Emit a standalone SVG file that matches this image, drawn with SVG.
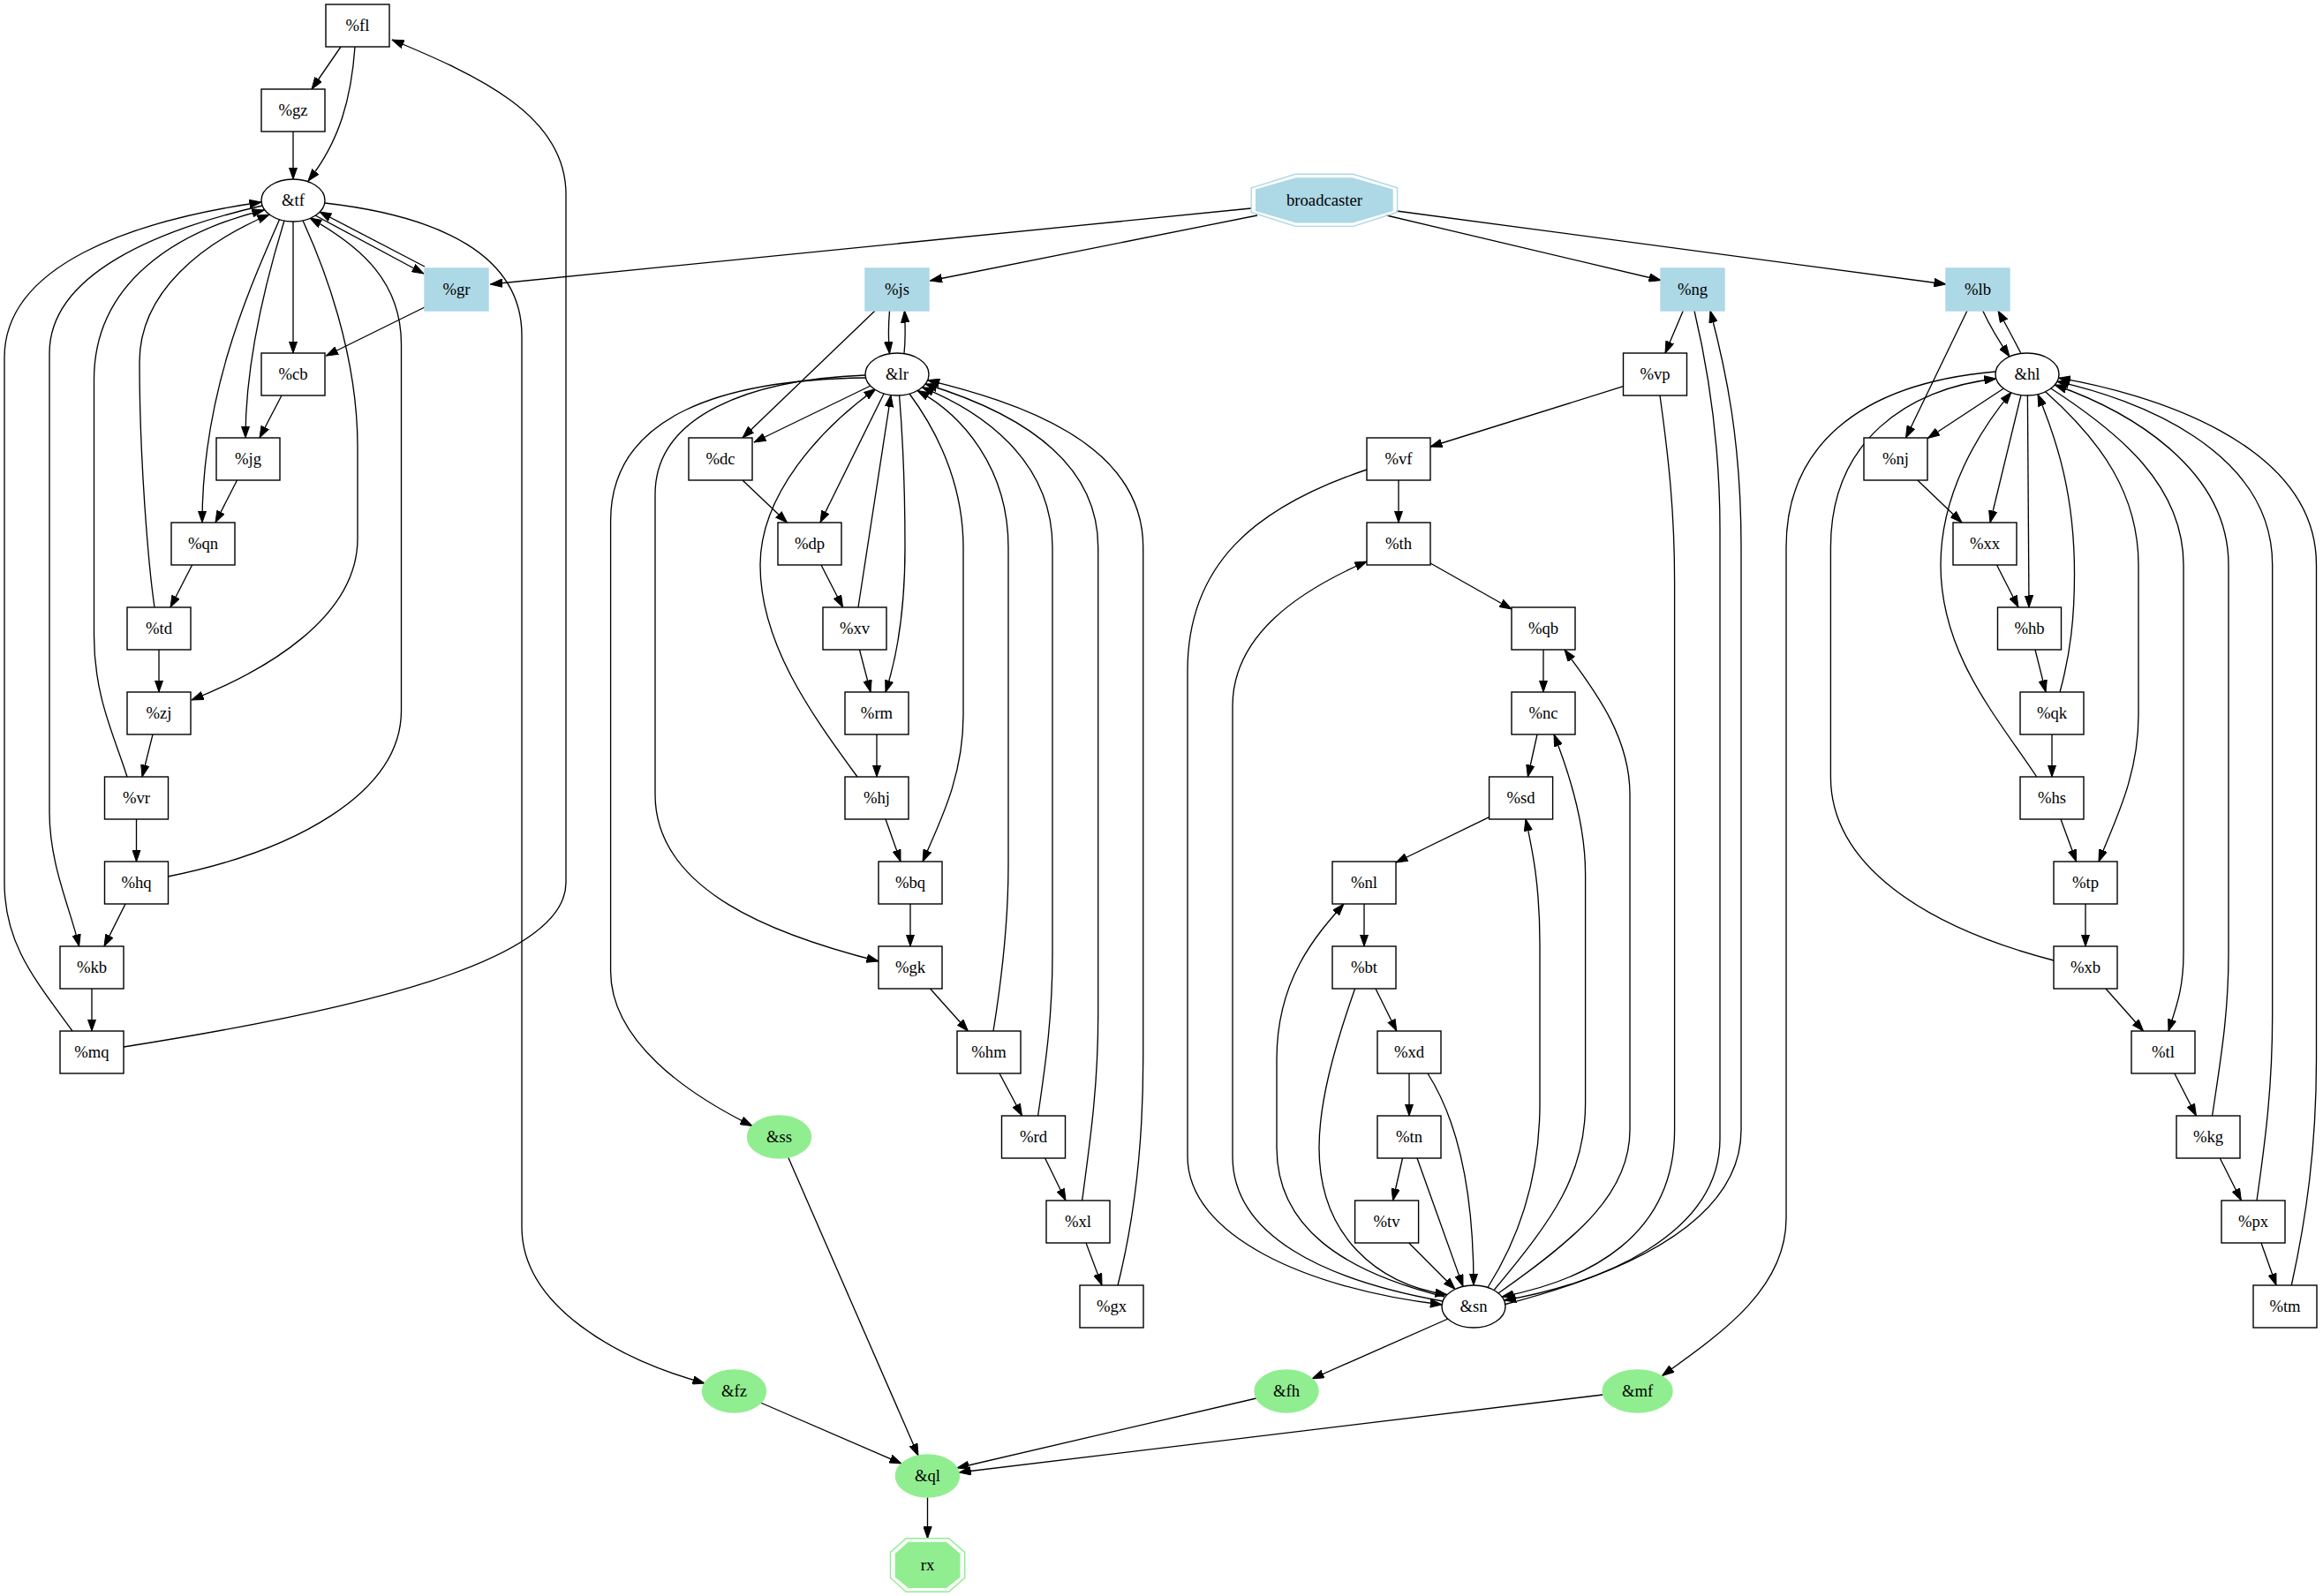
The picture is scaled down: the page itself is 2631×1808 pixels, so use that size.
<svg xmlns="http://www.w3.org/2000/svg" width="2631" height="1808" viewBox="0 0 2631 1808">
<style>
.bx{fill:#fff;stroke:#000;stroke-width:1.4}
.blue{fill:#add8e6;stroke:#add8e6;stroke-width:1.4}
.green{fill:#90ee90;stroke:#90ee90;stroke-width:1.4}
.ov{fill:#fff;stroke:#000;stroke-width:1.4}
.e{fill:none;stroke:#000;stroke-width:1.33;marker-end:url(#ah)}
text{font-family:"Liberation Serif","Times New Roman",serif;font-size:18.67px;text-anchor:middle;fill:#000}
</style>
<defs>
<marker id="ah" markerUnits="userSpaceOnUse" viewBox="0 0 14 10" refX="13.5" refY="5" markerWidth="14" markerHeight="10" orient="auto">
<path d="M0,0.3 L13.5,5 L0,9.7 Z" fill="#000" stroke="#000" stroke-width="1"/>
</marker>
</defs>
<rect width="2631" height="1808" fill="#fff"/>

<g id="edges">
<!-- left group around &tf -->
<path class="e" d="M386,53 L353,101"/>
<path class="e" d="M402,53 C398,110 385,160 349,205"/>
<path class="e" d="M332,149 L332,203"/>
<path class="e" d="M357,244 L480,310"/>
<path class="e" d="M481,302 L362,240"/>
<path class="e" d="M1417,236 L555.5,322"/>
<path class="e" d="M481,348 L369.5,403"/>
<path class="e" d="M332,251 L332,400"/>
<path class="e" d="M322,250 C302,315 278,410 278,496"/>
<path class="e" d="M319,448 L294,496"/>
<path class="e" d="M316.5,248.7 C286,320 229,440 229,592"/>
<path class="e" d="M268.5,544 L244,592"/>
<path class="e" d="M217.6,640 L193,688"/>
<path class="e" d="M343,250 C366,300 405,400 405,506 L405,610 C405,700 300,760 217,793"/>
<path class="e" d="M180,736 L180,784"/>
<path class="e" d="M175,688 C168,640 158,520 158,410 C158,330 230,275 305,243"/>
<path class="e" d="M173,832 L161,880"/>
<path class="e" d="M144,880 C130,835 106.5,790 106.5,720 L106.5,430 C106.5,320 200,262 299,238"/>
<path class="e" d="M154.5,928 L154.5,976"/>
<path class="e" d="M190,993 C330,965 454.5,900 454.5,805 L454.5,390 C454.5,320 410,280 351,247"/>
<path class="e" d="M142,1024 L118,1072"/>
<path class="e" d="M297,233 C180,260 56,310 56,400 L56,920 C56,980 80,1030 89.6,1072"/>
<path class="e" d="M104,1120 L104,1168"/>
<path class="e" d="M82,1168 C40,1110 5,1070 5,1000 L5,405 C5,300 150,250 296,229"/>
<path class="e" d="M140,1186 C400,1145 641,1090 641,1000 L641,220 C641,130 540,85 444,45"/>
<path class="e" d="M368,230 C500,245 591,290 591,380 L591,1390 C591,1480 700,1540 798,1567"/>

<!-- sinks -->
<path class="e" d="M861.5,1589 L1021,1658"/>
<path class="e" d="M892.7,1311 L1040,1649"/>
<path class="e" d="M1423,1584 L1084,1663"/>
<path class="e" d="M1815.5,1580 L1086.3,1668"/>
<path class="e" d="M1050.5,1696 L1050.5,1742.8"/>

<!-- middle group around &lr -->
<path class="e" d="M1424,244 L1053.5,318"/>
<path class="e" d="M1007.5,352 C1006,370 1006,385 1007.5,400.5"/>
<path class="e" d="M1024,400.5 C1025.5,385 1025.5,370 1024.5,352"/>
<path class="e" d="M991,352 L841,496"/>
<path class="e" d="M986,437 L854,501"/>
<path class="e" d="M1001,446 L929,592"/>
<path class="e" d="M841,544 L891.5,592"/>
<path class="e" d="M930,640 L954.6,688"/>
<path class="e" d="M972,688 L1009,447.5"/>
<path class="e" d="M1018.6,448 C1022,490 1025,550 1025,620 C1025,700 1014,750 1003,784"/>
<path class="e" d="M973.5,736 L986,784"/>
<path class="e" d="M993,832 L993,880"/>
<path class="e" d="M971,880 C920,810 861,730 861,640 C861,560 930,485 992,440.5"/>
<path class="e" d="M1030,446 C1070,500 1091,560 1091,620 L1091,810 C1091,880 1065,930 1045,976"/>
<path class="e" d="M1003,928 L1020,976"/>
<path class="e" d="M1031,1024 L1031,1072"/>
<path class="e" d="M980,425 C850,430 742,470 742,560 L742,900 C742,1010 880,1060 995,1089"/>
<path class="e" d="M980,428 C820,430 691.6,470 691.6,590 L691.6,1100 C691.6,1180 780,1240 852,1275.5"/>
<path class="e" d="M1053.5,1120 L1096.4,1168"/>
<path class="e" d="M1125,1168 C1136,1100 1142,1040 1142,980 L1142,620 C1142,530 1090,470 1039,442.4"/>
<path class="e" d="M1132,1216 L1157.5,1264"/>
<path class="e" d="M1175.6,1264 C1185,1200 1192,1150 1192,1080 L1192,620 C1192,520 1110,465 1044.4,438.8"/>
<path class="e" d="M1183.6,1312 L1207,1360"/>
<path class="e" d="M1225.6,1360 C1235,1290 1243.7,1230 1243.7,1150 L1243.7,620 C1243.7,510 1130,460 1048,435"/>
<path class="e" d="M1230,1408 L1248,1456"/>
<path class="e" d="M1266,1456 C1285,1380 1294.7,1300 1294.7,1200 L1294.7,620 C1294.7,500 1150,455 1050.6,430.6"/>

<!-- group around &sn -->
<path class="e" d="M1570.4,244 L1881,317.5"/>
<path class="e" d="M1581.8,239 L2204,322"/>
<path class="e" d="M1906.3,352 L1886,400"/>
<path class="e" d="M1838.5,437.7 L1620,506"/>
<path class="e" d="M1584,544 L1584,592"/>
<path class="e" d="M1548,532 C1420,575 1345,640 1345,760 L1345,1310 C1345,1400 1480,1460 1633.3,1478"/>
<path class="e" d="M1620,638 L1712,690"/>
<path class="e" d="M1634,1474 C1500,1450 1396,1400 1396,1310 L1396,800 C1396,720 1470,670 1548,636"/>
<path class="e" d="M1748,736 L1748,784"/>
<path class="e" d="M1697,1465 C1790,1400 1846,1350 1846,1280 L1846,900 C1846,830 1800,775 1772,736"/>
<path class="e" d="M1741,832 L1730.4,880"/>
<path class="e" d="M1692,1461.5 C1760,1380 1795.6,1330 1795.6,1250 L1795.6,990 C1795.6,930 1775,870 1760,832"/>
<path class="e" d="M1686.6,925.7 L1581,977"/>
<path class="e" d="M1685,1458.5 C1722,1400 1744,1330 1744,1250 L1744,1070 C1744,1000 1735,960 1728,928"/>
<path class="e" d="M1545,1024 L1545,1072"/>
<path class="e" d="M1636,1469 C1520,1440 1446,1390 1446,1300 L1446,1200 C1446,1110 1490,1060 1522,1024"/>
<path class="e" d="M1558,1120 L1581.8,1168"/>
<path class="e" d="M1534.6,1120 C1510,1190 1494,1250 1494,1300 C1494,1400 1560,1455 1639,1466.7"/>
<path class="e" d="M1596,1216 L1596,1264"/>
<path class="e" d="M1617,1216 C1645,1260 1669,1330 1669,1456"/>
<path class="e" d="M1588.5,1312 L1577.6,1360"/>
<path class="e" d="M1605,1312 L1657,1457.4"/>
<path class="e" d="M1595.7,1408 L1648,1460.5"/>
<path class="e" d="M1880,448 C1890,520 1896.6,580 1896.6,660 L1896.6,1280 C1896.6,1400 1800,1450 1701,1469"/>
<path class="e" d="M1919,352 C1935,420 1948,500 1948,600 L1948,1290 C1948,1400 1810,1455 1703.5,1473"/>
<path class="e" d="M1705,1477.5 C1850,1440 1972,1380 1972,1280 L1972,620 C1972,500 1955,420 1937,352"/>
<path class="e" d="M1640,1494 L1486,1562"/>

<!-- right group around &hl -->
<path class="e" d="M2245.7,352 C2255,372 2265,388 2276,404"/>
<path class="e" d="M2289,400.5 C2280,383 2272,368 2263,352"/>
<path class="e" d="M2228,352 L2158.5,496"/>
<path class="e" d="M2269.4,440 L2183.5,496.5"/>
<path class="e" d="M2289,447.5 L2254,592"/>
<path class="e" d="M2171.8,544 L2222,592"/>
<path class="e" d="M2261.5,640 L2286,688"/>
<path class="e" d="M2296.4,448 L2298,688"/>
<path class="e" d="M2305,736 L2317,784"/>
<path class="e" d="M2333,784 C2345,740 2349.5,700 2349.5,650 C2349.5,560 2330,500 2308,446.6"/>
<path class="e" d="M2324,832 L2324,880"/>
<path class="e" d="M2306.7,880 C2260,810 2198,740 2198,640 C2198,560 2240,490 2278,444.4"/>
<path class="e" d="M2316.6,443.7 C2380,500 2422,560 2422,640 L2422,810 C2422,880 2395,930 2377,976"/>
<path class="e" d="M2334,928 L2351.6,976"/>
<path class="e" d="M2362,1024 L2362,1072"/>
<path class="e" d="M2326,1088 C2180,1050 2073.4,980 2073.4,880 L2073.4,620 C2073.4,500 2160,440 2260.8,429"/>
<path class="e" d="M2260.2,421 C2100,435 2023,510 2023,620 L2023,1380 C2023,1460 1950,1510 1882.5,1558.5"/>
<path class="e" d="M2385,1120 L2427.6,1168"/>
<path class="e" d="M2322.8,440 C2400,490 2473,550 2473,640 L2473,1080 C2473,1120 2465,1140 2456,1168"/>
<path class="e" d="M2462.8,1216 L2487.4,1264"/>
<path class="e" d="M2505.6,1264 C2515,1200 2524,1150 2524,1080 L2524,640 C2524,530 2410,465 2327.2,436"/>
<path class="e" d="M2514.3,1312 L2538.4,1360"/>
<path class="e" d="M2556,1360 C2566,1290 2573.7,1230 2573.7,1150 L2573.7,640 C2573.7,510 2420,452 2329.8,432.2"/>
<path class="e" d="M2561,1408 L2578,1456"/>
<path class="e" d="M2595.3,1456 C2612,1380 2623.5,1300 2623.5,1200 L2623.5,640 C2623.5,500 2430,445 2331.5,428.2"/>
</g>

<!-- left group -->
<g id="n-fl"><rect class="bx" x="369" y="5" width="72" height="48"/><text x="405" y="35">%fl</text></g>
<g id="n-gz"><rect class="bx" x="296" y="101" width="72" height="48"/><text x="332" y="131">%gz</text></g>
<g id="n-tf"><ellipse class="ov" cx="332" cy="227" rx="36" ry="24"/><text x="332" y="233">&amp;tf</text></g>
<g id="n-gr"><rect class="blue" x="481" y="304" width="72" height="48"/><text x="517" y="334">%gr</text></g>
<g id="n-cb"><rect class="bx" x="296" y="400" width="72" height="48"/><text x="332" y="430">%cb</text></g>
<g id="n-jg"><rect class="bx" x="245" y="496" width="72" height="48"/><text x="281" y="526">%jg</text></g>
<g id="n-qn"><rect class="bx" x="194" y="592" width="72" height="48"/><text x="230" y="622">%qn</text></g>
<g id="n-td"><rect class="bx" x="144" y="688" width="72" height="48"/><text x="180" y="718">%td</text></g>
<g id="n-zj"><rect class="bx" x="144" y="784" width="72" height="48"/><text x="180" y="814">%zj</text></g>
<g id="n-vr"><rect class="bx" x="118.5" y="880" width="72" height="48"/><text x="154.5" y="910">%vr</text></g>
<g id="n-hq"><rect class="bx" x="118.5" y="976" width="72" height="48"/><text x="154.5" y="1006">%hq</text></g>
<g id="n-kb"><rect class="bx" x="68" y="1072" width="72" height="48"/><text x="104" y="1102">%kb</text></g>
<g id="n-mq"><rect class="bx" x="68" y="1168" width="72" height="48"/><text x="104" y="1198">%mq</text></g>

<!-- source -->
<g id="n-broadcaster">
<polygon points="1417.2,212.8 1467.3,197.3 1532.5,197.3 1582.6,212.8 1582.6,240.5 1532.5,256.4 1467.3,256.4 1417.2,240.5" fill="none" stroke="#add8e6" stroke-width="1.4"/>
<polygon points="1422.7,215 1468,202 1531.7,202 1577,215 1577,238.5 1531.7,251.8 1468,251.8 1422.7,238.5" class="blue"/>
<text x="1500" y="233">broadcaster</text>
</g>

<!-- middle group -->
<g id="n-js"><rect class="blue" x="980" y="304" width="72" height="48"/><text x="1016" y="334">%js</text></g>
<g id="n-lr"><ellipse class="ov" cx="1016" cy="424" rx="36" ry="24"/><text x="1016" y="430">&amp;lr</text></g>
<g id="n-dc"><rect class="bx" x="780" y="496" width="72" height="48"/><text x="816" y="526">%dc</text></g>
<g id="n-dp"><rect class="bx" x="881" y="592" width="72" height="48"/><text x="917" y="622">%dp</text></g>
<g id="n-xv"><rect class="bx" x="932" y="688" width="72" height="48"/><text x="968" y="718">%xv</text></g>
<g id="n-rm"><rect class="bx" x="957" y="784" width="72" height="48"/><text x="993" y="814">%rm</text></g>
<g id="n-hj"><rect class="bx" x="957" y="880" width="72" height="48"/><text x="993" y="910">%hj</text></g>
<g id="n-bq"><rect class="bx" x="995" y="976" width="72" height="48"/><text x="1031" y="1006">%bq</text></g>
<g id="n-gk"><rect class="bx" x="995" y="1072" width="72" height="48"/><text x="1031" y="1102">%gk</text></g>
<g id="n-hm"><rect class="bx" x="1084" y="1168" width="72" height="48"/><text x="1120" y="1198">%hm</text></g>
<g id="n-rd"><rect class="bx" x="1134.5" y="1264" width="72" height="48"/><text x="1170.5" y="1294">%rd</text></g>
<g id="n-xl"><rect class="bx" x="1185" y="1360" width="72" height="48"/><text x="1221" y="1390">%xl</text></g>
<g id="n-gx"><rect class="bx" x="1223" y="1456" width="72" height="48"/><text x="1259" y="1486">%gx</text></g>
<g id="n-ss"><ellipse class="green" cx="882.5" cy="1288" rx="36" ry="24"/><text x="882.5" y="1294">&amp;ss</text></g>
<g id="n-fz"><ellipse class="green" cx="831.5" cy="1576" rx="36" ry="24"/><text x="831.5" y="1582">&amp;fz</text></g>
<g id="n-ql"><ellipse class="green" cx="1050.5" cy="1672" rx="36" ry="24"/><text x="1050.5" y="1678">&amp;ql</text></g>
<g id="n-rx">
<polygon points="1008.5,1758.4 1026.2,1742.8 1074.6,1742.8 1092.7,1758.4 1092.7,1787.4 1074.6,1803.3 1026.2,1803.3 1008.5,1787.4" fill="none" stroke="#90ee90" stroke-width="1.4"/>
<polygon points="1014.4,1760.3 1029,1747.5 1071.6,1747.5 1086.8,1760.3 1086.8,1786.3 1071.6,1798.3 1029,1798.3 1014.4,1786.3" class="green"/>
<text x="1050.5" y="1779">rx</text>
</g>

<!-- group around &sn -->
<g id="n-ng"><rect class="blue" x="1881" y="304" width="72" height="48"/><text x="1917" y="334">%ng</text></g>
<g id="n-vp"><rect class="bx" x="1838.5" y="400" width="72" height="48"/><text x="1874.5" y="430">%vp</text></g>
<g id="n-vf"><rect class="bx" x="1548" y="496" width="72" height="48"/><text x="1584" y="526">%vf</text></g>
<g id="n-th"><rect class="bx" x="1548" y="592" width="72" height="48"/><text x="1584" y="622">%th</text></g>
<g id="n-qb"><rect class="bx" x="1712" y="688" width="72" height="48"/><text x="1748" y="718">%qb</text></g>
<g id="n-nc"><rect class="bx" x="1712" y="784" width="72" height="48"/><text x="1748" y="814">%nc</text></g>
<g id="n-sd"><rect class="bx" x="1686.6" y="880" width="72" height="48"/><text x="1722.6" y="910">%sd</text></g>
<g id="n-nl"><rect class="bx" x="1509" y="976" width="72" height="48"/><text x="1545" y="1006">%nl</text></g>
<g id="n-bt"><rect class="bx" x="1509" y="1072" width="72" height="48"/><text x="1545" y="1102">%bt</text></g>
<g id="n-xd"><rect class="bx" x="1560" y="1168" width="72" height="48"/><text x="1596" y="1198">%xd</text></g>
<g id="n-tn"><rect class="bx" x="1560" y="1264" width="72" height="48"/><text x="1596" y="1294">%tn</text></g>
<g id="n-tv"><rect class="bx" x="1534.6" y="1360" width="72" height="48"/><text x="1570.6" y="1390">%tv</text></g>
<g id="n-sn"><ellipse class="ov" cx="1669" cy="1480" rx="36" ry="24"/><text x="1669" y="1486">&amp;sn</text></g>
<g id="n-fh"><ellipse class="green" cx="1457" cy="1576" rx="36" ry="24"/><text x="1457" y="1582">&amp;fh</text></g>
<g id="n-mf"><ellipse class="green" cx="1854.6" cy="1576" rx="39.5" ry="24"/><text x="1854.6" y="1582">&amp;mf</text></g>

<!-- right group -->
<g id="n-lb"><rect class="blue" x="2204" y="304" width="72" height="48"/><text x="2240" y="334">%lb</text></g>
<g id="n-hl"><ellipse class="ov" cx="2296" cy="424" rx="36" ry="24"/><text x="2296" y="430">&amp;hl</text></g>
<g id="n-nj"><rect class="bx" x="2111" y="496" width="72" height="48"/><text x="2147" y="526">%nj</text></g>
<g id="n-xx"><rect class="bx" x="2212" y="592" width="72" height="48"/><text x="2248" y="622">%xx</text></g>
<g id="n-hb"><rect class="bx" x="2262.5" y="688" width="72" height="48"/><text x="2298.5" y="718">%hb</text></g>
<g id="n-qk"><rect class="bx" x="2288" y="784" width="72" height="48"/><text x="2324" y="814">%qk</text></g>
<g id="n-hs"><rect class="bx" x="2288" y="880" width="72" height="48"/><text x="2324" y="910">%hs</text></g>
<g id="n-tp"><rect class="bx" x="2326" y="976" width="72" height="48"/><text x="2362" y="1006">%tp</text></g>
<g id="n-xb"><rect class="bx" x="2326" y="1072" width="72" height="48"/><text x="2362" y="1102">%xb</text></g>
<g id="n-tl"><rect class="bx" x="2414" y="1168" width="72" height="48"/><text x="2450" y="1198">%tl</text></g>
<g id="n-kg"><rect class="bx" x="2465" y="1264" width="72" height="48"/><text x="2501" y="1294">%kg</text></g>
<g id="n-px"><rect class="bx" x="2516" y="1360" width="72" height="48"/><text x="2552" y="1390">%px</text></g>
<g id="n-tm"><rect class="bx" x="2552" y="1456" width="72" height="48"/><text x="2588" y="1486">%tm</text></g>
</svg>
